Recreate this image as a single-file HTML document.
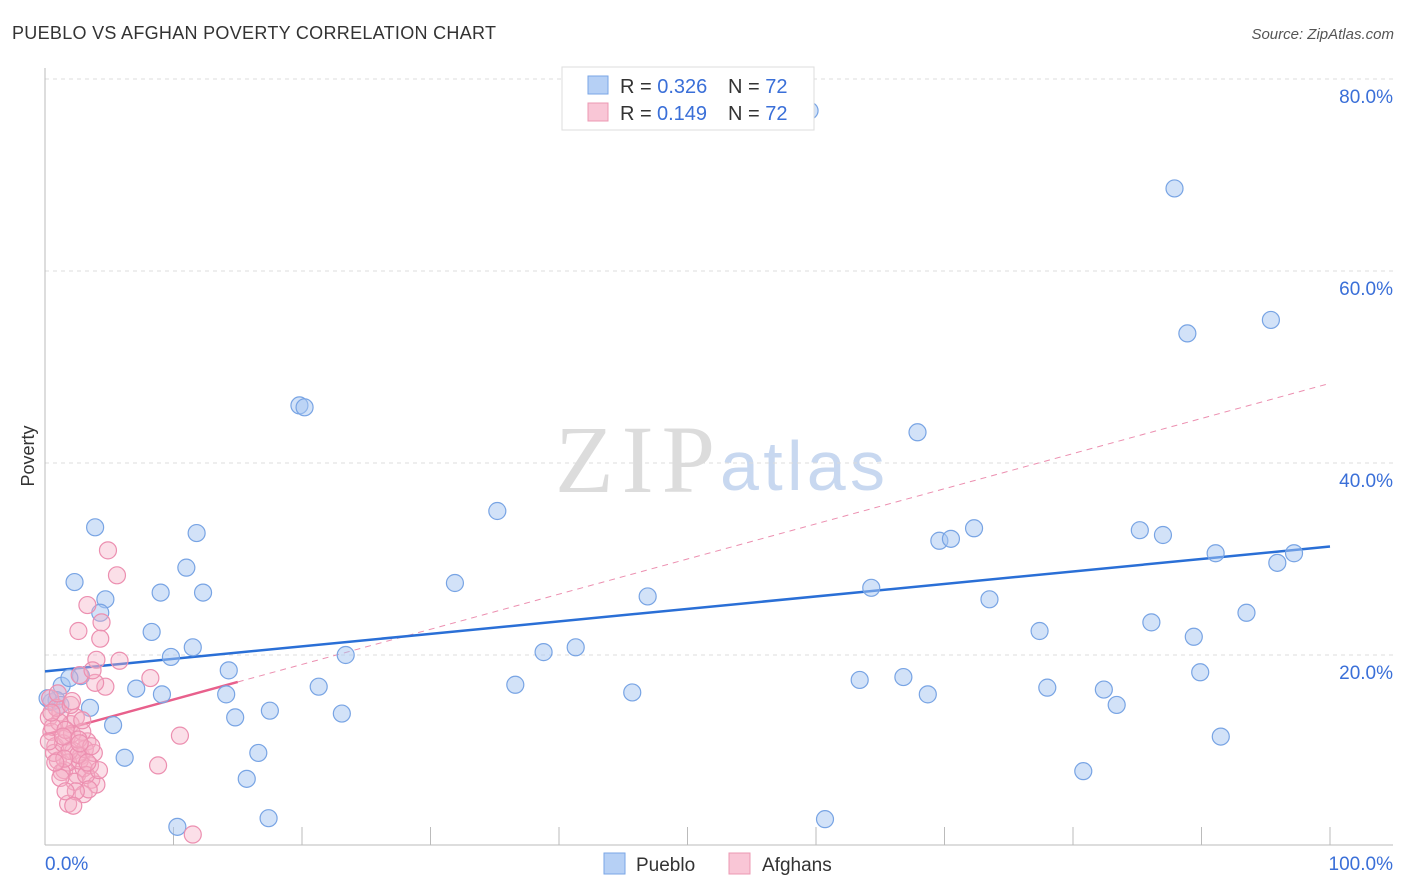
<!DOCTYPE html>
<html><head><meta charset="utf-8"><style>
body{margin:0;background:#fff;font-family:"Liberation Sans",sans-serif;}
svg{display:block}
</style></head><body>
<svg id="chart" width="1406" height="892" xmlns="http://www.w3.org/2000/svg">
<text x="12" y="39" font-size="18" fill="#333" textLength="484">PUEBLO VS AFGHAN POVERTY CORRELATION CHART</text>
<text x="1394" y="39" font-size="15" fill="#555" font-style="italic" text-anchor="end">Source: ZipAtlas.com</text>
<g>
<text x="555" y="492" font-size="96" font-family="Liberation Serif,serif" fill="#dcdcdc" textLength="160">ZIP</text>
<text x="720" y="490" font-size="70" fill="#c8d8f0" textLength="165">atlas</text>
</g>
<g id="grid"></g>
<g id="axes"></g>
<g id="trend"></g>
<g id="pts"></g>
<text x="34" y="456" font-size="18" fill="#333" text-anchor="middle" transform="rotate(-90 34 456)">Poverty</text>
<g>
<rect x="562" y="67" width="252" height="63" fill="#fff" stroke="#ddd"/>
<rect x="588" y="76" width="20" height="18" fill="#b6d0f5" stroke="#7aa6e6"/>
<rect x="588" y="103" width="20" height="18" fill="#f9c6d6" stroke="#ec98b3"/>
<text x="620" y="93" font-size="20" fill="#333">R = <tspan fill="#3a6fd8">0.326</tspan><tspan x="728">N = </tspan><tspan fill="#3a6fd8">72</tspan></text>
<text x="620" y="120" font-size="20" fill="#333">R = <tspan fill="#3a6fd8" x="657">0.149</tspan><tspan x="728">N = </tspan><tspan fill="#3a6fd8">72</tspan></text>
</g>
<g>
<rect x="604" y="853" width="21" height="21" fill="#b6d0f5" stroke="#7aa6e6"/>
<text x="636" y="871" font-size="19" fill="#333">Pueblo</text>
<rect x="729" y="853" width="21" height="21" fill="#f9c6d6" stroke="#ec98b3"/>
<text x="762" y="871" font-size="19" fill="#333">Afghans</text>
</g>
</svg>
<script>
const blueX=[59.5,87.9,88.9,95.4,19.8,20.2,67.9,35.2,3.9,11.8,69.6,70.5,72.3,85.2,87.0,91.1,95.9,97.2,2.3,11.0,31.9,4.7,9.0,12.3,46.9,64.3,73.5,4.3,8.3,77.4,86.1,93.5,89.4,11.5,9.8,38.8,41.3,23.4,14.3,2.8,1.3,1.9,0.5,0.9,7.1,9.1,14.1,21.3,36.6,45.7,63.4,66.8,68.7,78.0,82.4,83.4,89.9,3.5,5.3,14.8,17.5,23.1,91.5,6.2,16.6,15.7,80.8,10.3,17.4,60.7,1.2,0.2];
const blueY=[76.7,68.6,53.5,54.9,46.0,45.8,43.2,35.0,33.3,32.7,31.9,32.1,33.2,33.0,32.5,30.6,29.6,30.6,27.6,29.1,27.5,25.8,26.5,26.5,26.1,27.0,25.8,24.4,22.4,22.5,23.4,24.4,21.9,20.8,19.8,20.3,20.8,20.0,18.4,17.8,16.8,17.6,15.1,15.3,16.5,15.9,15.9,16.7,16.9,16.1,17.4,17.7,15.9,16.6,16.4,14.8,18.2,14.5,12.7,13.5,14.2,13.9,11.5,9.3,9.8,7.1,7.9,2.1,3.0,2.9,14.8,15.5];
const pinkX=[4.9,5.6,3.3,4.4,2.6,4.3,5.8,4.0,8.2,10.5,8.8,11.5,4.7,3.9,2.7,3.7,
0.3,0.5,0.8,1.0,1.2,1.5,1.7,2.0,2.2,2.5,2.8,3.0,3.3,3.6,4.0,0.4,0.7,1.1,1.4,1.8,2.1,2.4,2.7,3.1,3.5,0.6,0.9,1.3,1.6,1.9,2.3,2.6,2.9,3.2,3.8,4.2,0.3,1.0,1.5,2.0,2.6,3.0,3.4,1.8,2.4,1.2,3.6,2.1,0.8,2.9,1.6,2.2,2.7,3.3,0.5,1.4];
const pinkY=[30.9,28.3,25.2,23.4,22.5,21.7,19.4,19.5,17.6,11.6,8.5,1.3,16.7,17.1,17.9,18.4,
13.5,12.0,10.5,9.0,14.0,8.0,11.5,12.8,10.0,7.5,9.5,8.2,11.0,7.0,6.5,15.5,9.8,13.0,10.8,8.8,11.8,13.5,9.0,10.2,8.5,12.5,14.5,7.8,12.2,10.0,6.8,9.6,12.0,7.5,9.8,8.0,11.0,16.0,9.2,14.8,11.2,5.5,6.0,4.5,5.8,7.2,10.5,15.2,8.8,13.2,5.8,4.3,10.8,8.8,14.0,11.5];
const blueTrend=[18.3,31.3]; // y at x=0, x=100
const pinkTrend=[11.7,48.3];
const pinkSolidEnd=15;
const yTicks=[20,40,60,80];
const yTickLabels=["20.0%","40.0%","60.0%","80.0%"];
const xTicks=[10,20,30,40,50,60,70,80,90,100];
const NS="http://www.w3.org/2000/svg";
const sx=v=>45+v*12.85, sy=v=>847-v*9.6;
function mk(parent,tag,attrs){const e=document.createElementNS(NS,tag);for(const k in attrs)e.setAttribute(k,attrs[k]);document.getElementById(parent).appendChild(e);return e;}
yTicks.forEach((t,i)=>{
 const g=mk('grid','line',{x1:45,x2:1393,y1:sy(t),y2:sy(t),stroke:'#ddd','stroke-dasharray':'4 4'});
 
 
 const l=mk('axes','text',{x:1393,y:sy(t)+24,'font-size':19,fill:'#3a6fd8','text-anchor':'end'});
 l.textContent=yTickLabels[i];
 
 
});
let a=mk('axes','line',{x1:45,x2:45,y1:68,y2:845,stroke:'#bbb'});


a=mk('axes','line',{x1:45,x2:1393,y1:845,y2:845,stroke:'#bbb'});


xTicks.forEach(t=>{const k=mk('axes','line',{x1:sx(t),x2:sx(t),y1:827,y2:845,stroke:'#bbb'});
 
 });
let xl=mk('axes','text',{x:45,y:870,'font-size':19,fill:'#3a6fd8'});xl.textContent='0.0%';


xl=mk('axes','text',{x:1393,y:870,'font-size':19,fill:'#3a6fd8','text-anchor':'end'});xl.textContent='100.0%';


blueX.forEach((x,i)=>{const c=mk('pts','circle',{cx:sx(x),cy:sy(blueY[i]),r:8.5,fill:'rgba(165,198,242,0.5)',stroke:'#78a4e4','stroke-width':1.2});
 
 });
pinkX.forEach((x,i)=>{const c=mk('pts','circle',{cx:sx(x),cy:sy(pinkY[i]),r:8.5,fill:'rgba(246,175,198,0.4)',stroke:'#ec8fb0','stroke-width':1.2});
 
 });
const pAt=x=>pinkTrend[0]+(pinkTrend[1]-pinkTrend[0])*x/100;
let t=mk('trend','line',{x1:sx(pinkSolidEnd),y1:sy(pAt(pinkSolidEnd)),x2:sx(100),y2:sy(pinkTrend[1]),stroke:'#ec8fb0','stroke-width':1,'stroke-dasharray':'6 5'});


t=mk('trend','line',{x1:sx(0),y1:sy(pinkTrend[0]),x2:sx(pinkSolidEnd),y2:sy(pAt(pinkSolidEnd)),stroke:'#e8608c','stroke-width':2.5});


t=mk('trend','line',{x1:sx(0),y1:sy(blueTrend[0]),x2:sx(100),y2:sy(blueTrend[1]),stroke:'#2a6fd6','stroke-width':2.5});


</script>
</body></html>
